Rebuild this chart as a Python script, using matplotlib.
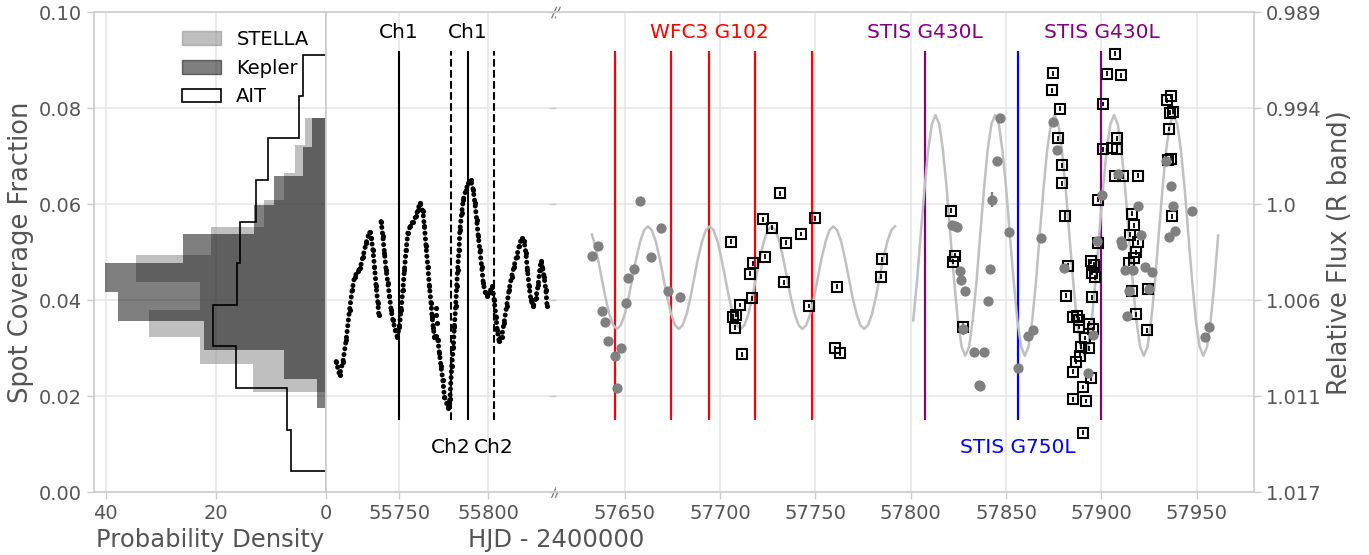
import matplotlib.pyplot as plt
import matplotlib as mpl
from matplotlib.patches import Patch
from matplotlib.ticker import FormatStrFormatter
import numpy as np

#%% Histogram data (spot coverage fraction bins -> probability density)
stella_edges = [0.0209, 0.0266, 0.0323, 0.0380, 0.0437, 0.0494, 0.0552, 0.0609, 0.0666, 0.0723, 0.0780]
stella_dens = [13.2, 22.8, 32.2, 22.8, 34.4, 20.8, 11.3, 7.6, 5.6, 3.8]
kepler_edges = [0.0175, 0.0236, 0.0296, 0.0357, 0.0417, 0.0478, 0.0538, 0.0599, 0.0659, 0.0720, 0.0780]
kepler_dens = [1.6, 7.6, 22.1, 37.7, 40.1, 25.9, 13.0, 9.5, 4.1, 2.5]
ait_edges = [0.0043, 0.0130, 0.0217, 0.0304, 0.0390, 0.0477, 0.0564, 0.0651, 0.0738, 0.0825, 0.0912]
ait_dens = [6.3, 7.1, 16.3, 20.5, 16.2, 15.6, 12.7, 10.5, 4.85, 4.2]

#%% Kepler light curve (HJD - 2400000, spot coverage fraction)
kep_t = [55714.7, 55716.6, 55718.5, 55720.3, 55722.2, 55723.7, 55725.0, 55726.9, 55728.2, 55729.7,
         55731.5, 55733.4, 55734.3, 55735.3, 55736.2, 55737.1, 55738.1, 55738.6, np.nan,
         55739.9, 55740.9, 55741.8, 55742.7, 55743.7, 55744.6, 55745.5, 55746.5, 55747.8, 55748.9,
         55750.2, 55751.1, 55752.1, 55753.0, 55753.9, 55754.9, 55756.2, 55757.7, 55759.5, 55760.5,
         55761.8, 55763.3, 55764.2, 55765.1, 55766.1, 55767.0, 55767.9, 55768.5, 55769.2, 55769.8,
         55770.7, 55771.7, 55772.6, 55773.5, 55774.5, 55775.4, 55776.7, 55777.6, 55778.5, 55779.5,
         55780.4, 55781.0, 55781.7, 55782.3, 55782.8, 55783.6, 55784.1, 55785.1, 55786.0, 55787.5,
         55788.8, 55790.1, 55791.6, 55792.5, 55793.5, 55794.4, 55795.3, 55796.3, 55797.2, 55798.1,
         55799.4, 55800.9, 55802.2, 55803.3, 55804.3, 55805.0, 55806.1, 55807.5, 55808.8, 55810.3,
         55811.7, 55813.1, 55814.4, 55815.9, 55817.3, 55818.7, 55820.1, 55821.1, 55822.0, 55822.9,
         55823.9, 55825.2, 55826.7, 55828.0, 55828.9, 55829.5, 55830.4, 55831.3, 55832.3, 55833.0]
kep_f = [0.0272, 0.0244, 0.0272, 0.0317, 0.0380, 0.0422, 0.0449, 0.0460, 0.0467, 0.0491,
         0.0519, 0.0543, 0.0530, 0.0505, 0.0470, 0.0429, 0.0394, 0.0370, np.nan,
         0.0564, 0.0533, 0.0498, 0.0463, 0.0436, 0.0408, 0.0380, 0.0359, 0.0338, 0.0324,
         0.0345, 0.0380, 0.0422, 0.0463, 0.0505, 0.0540, 0.0554, 0.0564, 0.0575, 0.0589,
         0.0603, 0.0585, 0.0554, 0.0512, 0.0470, 0.0429, 0.0394, 0.0366, 0.0342, 0.0324,
         0.0325, 0.0317, 0.0290, 0.0262, 0.0234, 0.0199, 0.0185, 0.0176, 0.0195, 0.0262,
         0.0303, 0.0345, 0.0387, 0.0429, 0.0463, 0.0505, 0.0547, 0.0582, 0.0610, 0.0630,
         0.0644, 0.0651, 0.0630, 0.0603, 0.0568, 0.0533, 0.0505, 0.0470, 0.0436, 0.0418,
         0.0408, 0.0418, 0.0429, 0.0401, 0.0366, 0.0338, 0.0314, 0.0324, 0.0352, 0.0387,
         0.0422, 0.0449, 0.0470, 0.0491, 0.0512, 0.0530, 0.0523, 0.0498, 0.0463, 0.0429,
         0.0401, 0.0387, 0.0404, 0.0432, 0.0463, 0.0481, 0.0470, 0.0449, 0.0422, 0.0387]
kep_out_t = [55770.6, 55770.9, 55771.1]
kep_out_f = [0.0383, 0.0370, 0.0352]

ch1_t = [55750.0, 55788.7]
ch2_t = [55779.1, 55803.3]

#%% Ground-based photometry and HST visits
wfc3_t = [57645.1, 57674.1, 57694.2, 57718.1, 57748.1]
g430_t = [57807.5, 57900.0]
g750_t = [57856.4]

# sinusoid model
fit1_t = [57632.8, 57633.9, 57635.9, 57637.9, 57639.9, 57642.0, 57644.0, 57646.0, 57648.0, 57650.1,
          57652.1, 57654.1, 57656.1, 57658.2, 57660.2, 57662.2, 57664.2, 57666.3, 57668.3, 57670.3,
          57672.3, 57674.4, 57676.4, 57678.4, 57680.4, 57682.5, 57684.5, 57686.5, 57688.5, 57690.6,
          57692.6, 57694.6, 57696.6, 57698.7, 57700.7, 57702.7, 57704.7, 57706.8, 57708.8, 57710.8,
          57712.8, 57714.9, 57716.9, 57718.9, 57720.9, 57723.0, 57725.0, 57727.0, 57729.0, 57731.1,
          57733.1, 57735.1, 57737.1, 57739.2, 57741.2, 57743.2, 57745.2, 57747.3, 57749.3, 57751.3,
          57753.3, 57755.4, 57757.4, 57759.4, 57761.4, 57763.5, 57765.5, 57767.5, 57769.5, 57771.6,
          57773.6, 57775.6, 57777.6, 57779.7, 57781.7, 57783.7, 57785.7, 57787.8, 57789.8, 57791.8]
fit1_f = [0.0537, 0.0523, 0.0488, 0.0447, 0.0406, 0.0371, 0.0348, 0.0340, 0.0348, 0.0371,
          0.0406, 0.0447, 0.0488, 0.0523, 0.0546, 0.0554, 0.0546, 0.0523, 0.0488, 0.0447,
          0.0406, 0.0371, 0.0348, 0.0340, 0.0348, 0.0371, 0.0406, 0.0447, 0.0488, 0.0523,
          0.0546, 0.0554, 0.0546, 0.0523, 0.0488, 0.0447, 0.0406, 0.0371, 0.0348, 0.0340,
          0.0348, 0.0371, 0.0406, 0.0447, 0.0488, 0.0523, 0.0546, 0.0554, 0.0546, 0.0523,
          0.0488, 0.0447, 0.0406, 0.0371, 0.0348, 0.0340, 0.0348, 0.0371, 0.0406, 0.0447,
          0.0488, 0.0523, 0.0546, 0.0554, 0.0546, 0.0523, 0.0488, 0.0447, 0.0406, 0.0371,
          0.0348, 0.0340, 0.0348, 0.0371, 0.0406, 0.0447, 0.0488, 0.0523, 0.0546, 0.0554]
fit2_t = [57801.3, 57803.3, 57805.2, 57807.2, 57809.1, 57811.1, 57813.0, 57815.0, 57816.9, 57818.9,
          57820.8, 57822.8, 57824.7, 57826.7, 57828.6, 57830.6, 57832.5, 57834.5, 57836.4, 57838.4,
          57840.3, 57842.3, 57844.2, 57846.2, 57848.1, 57850.1, 57852.0, 57854.0, 57855.9, 57857.9,
          57859.8, 57861.8, 57863.7, 57865.7, 57867.6, 57869.6, 57871.5, 57873.5, 57875.4, 57877.4,
          57879.3, 57881.3, 57883.2, 57885.2, 57887.1, 57889.1, 57891.0, 57893.0, 57894.9, 57896.9,
          57898.8, 57900.8, 57902.7, 57904.7, 57906.6, 57908.6, 57910.5, 57912.5, 57914.4, 57916.4,
          57918.3, 57920.3, 57922.2, 57924.2, 57926.1, 57928.1, 57930.0, 57932.0, 57933.9, 57935.9,
          57937.8, 57939.8, 57941.7, 57943.7, 57945.6, 57947.6, 57949.5, 57951.5, 57953.4, 57955.4,
          57957.3, 57959.3, 57961.2]
fit2_f = [0.0358, 0.0439, 0.0535, 0.0631, 0.0712, 0.0767, 0.0786, 0.0767, 0.0712, 0.0631,
          0.0535, 0.0439, 0.0358, 0.0303, 0.0284, 0.0303, 0.0358, 0.0439, 0.0535, 0.0631,
          0.0712, 0.0767, 0.0786, 0.0767, 0.0712, 0.0631, 0.0535, 0.0439, 0.0358, 0.0303,
          0.0284, 0.0303, 0.0358, 0.0439, 0.0535, 0.0631, 0.0712, 0.0767, 0.0786, 0.0767,
          0.0712, 0.0631, 0.0535, 0.0439, 0.0358, 0.0303, 0.0284, 0.0303, 0.0358, 0.0439,
          0.0535, 0.0631, 0.0712, 0.0767, 0.0786, 0.0767, 0.0712, 0.0631, 0.0535, 0.0439,
          0.0358, 0.0303, 0.0284, 0.0303, 0.0358, 0.0439, 0.0535, 0.0631, 0.0712, 0.0767,
          0.0786, 0.0767, 0.0712, 0.0631, 0.0535, 0.0439, 0.0358, 0.0303, 0.0284, 0.0303,
          0.0358, 0.0439, 0.0535]

# filled gray circles
dot_t = [57632.8, 57636.0, 57637.9, 57639.9, 57641.1, 57644.9, 57646.0, 57648.1, 57650.9, 57651.9,
         57654.9, 57657.9, 57664.0, 57668.9, 57672.9, 57678.9,
         57821.6, 57823.0, 57824.5, 57825.8, 57826.6, 57828.5, 57827.5, 57833.3, 57838.2, 57835.9,
         57836.4, 57841.5, 57840.3, 57842.6, 57845.3, 57846.6, 57851.6,
         57856.5, 57861.6, 57864.2, 57868.3, 57874.4, 57876.5, 57880.3, 57892.7, 57895.5, 57897.5,
         57900.4, 57908.5, 57910.1, 57910.6, 57912.3, 57913.5, 57914.6, 57916.7, 57919.4, 57920.6,
         57923.0, 57925.1, 57926.3, 57933.6, 57935.5, 57936.3, 57937.5, 57938.5, 57947.3, 57954.3,
         57956.5]
dot_f = [0.0493, 0.0514, 0.0378, 0.0355, 0.0314, 0.0284, 0.0216, 0.0301, 0.0395, 0.0446,
         0.0465, 0.0607, 0.0491, 0.0551, 0.0419, 0.0407,
         0.0557, 0.0555, 0.0553, 0.0460, 0.0443, 0.0419, 0.0340, 0.0292, 0.0293, 0.0224,
         0.0222, 0.0466, 0.0399, 0.0610, 0.0690, 0.0780, 0.0542,
         0.0259, 0.0326, 0.0337, 0.0529, 0.0772, 0.0714, 0.0467, 0.0248, 0.0328, 0.0523,
         0.0620, 0.0663, 0.0523, 0.0516, 0.0463, 0.0367, 0.0420, 0.0463, 0.0596, 0.0537,
         0.0470, 0.0423, 0.0458, 0.0690, 0.0532, 0.0639, 0.0596, 0.0545, 0.0587, 0.0323,
         0.0344]
dot_err = [0.0003, 0.0003, 0.0003, 0.0003, 0.0003, 0.0003, 0.0003, 0.0007, 0.0003, 0.0003,
           0.0003, 0.0003, 0.0006, 0.0003, 0.0003, 0.0006,
           0.0003, 0.0003, 0.0003, 0.0003, 0.0003, 0.0003, 0.0013, 0.0003, 0.0003, 0.0003,
           0.0003, 0.0003, 0.0003, 0.0016, 0.0004, 0.0003, 0.0003,
           0.0003, 0.0003, 0.0003, 0.0003, 0.0003, 0.0003, 0.0003, 0.0004, 0.0003, 0.0003,
           0.0003, 0.0003, 0.0003, 0.0003, 0.0003, 0.0003, 0.0003, 0.0003, 0.0009, 0.0003,
           0.0006, 0.0003, 0.0004, 0.0003, 0.0003, 0.0003, 0.0003, 0.0003, 0.0003, 0.0003,
           0.0003]

# open squares
sq_t = [57706.0, 57710.5, 57708.6, 57706.7, 57707.7, 57711.7, 57715.7, 57717.5, 57716.8, 57722.8,
        57723.8, 57727.5, 57731.7, 57734.6, 57733.8, 57742.7, 57749.8, 57746.7, 57761.6, 57760.5,
        57762.8, 57785.2, 57784.3,
        57821.2, 57823.3, 57822.1, 57827.2,
        57874.7, 57874.0, 57878.2, 57877.2, 57879.1, 57879.1, 57881.0, 57882.3, 57881.2, 57884.9,
        57885.0, 57885.0,
        57907.1, 57902.7, 57910.3, 57901.0, 57908.0, 57901.0, 57908.0, 57905.4, 57907.1, 57911.5,
        57919.4, 57898.2, 57915.8, 57917.2, 57914.9, 57919.4, 57898.4, 57918.1, 57917.2, 57914.7,
        57894.5, 57896.2, 57895.2, 57896.6, 57916.2, 57895.2, 57918.1, 57887.0, 57888.4, 57888.2,
        57893.4, 57895.7, 57891.3, 57889.2, 57893.4, 57888.7, 57886.9, 57894.5, 57890.5, 57891.9,
        57890.2,
        57934.2, 57936.5, 57936.0, 57937.3, 57935.2, 57934.7, 57936.3, 57937.1, 57924.2, 57924.0]
sq_f = [0.0522, 0.0390, 0.0370, 0.0366, 0.0343, 0.0287, 0.0455, 0.0477, 0.0404, 0.0569,
        0.0491, 0.0551, 0.0623, 0.0520, 0.0437, 0.0538, 0.0571, 0.0388, 0.0428, 0.0300,
        0.0289, 0.0485, 0.0449,
        0.0587, 0.0493, 0.0480, 0.0345,
        0.0873, 0.0838, 0.0799, 0.0738, 0.0681, 0.0644, 0.0575, 0.0472, 0.0409, 0.0366,
        0.0251, 0.0193,
        0.0914, 0.0872, 0.0869, 0.0809, 0.0738, 0.0715, 0.0715, 0.0718, 0.0658, 0.0658,
        0.0660, 0.0610, 0.0580, 0.0556, 0.0537, 0.0521, 0.0519, 0.0500, 0.0488, 0.0477,
        0.0481, 0.0474, 0.0457, 0.0448, 0.0420, 0.0406, 0.0371, 0.0367, 0.0359, 0.0345,
        0.0351, 0.0340, 0.0321, 0.0303, 0.0300, 0.0284, 0.0272, 0.0237, 0.0219, 0.0190,
        0.0124,
        0.0817, 0.0825, 0.0791, 0.0793, 0.0757, 0.0693, 0.0695, 0.0575, 0.0423, 0.0337]
sq_err = [0.0005] * len(sq_t)
sq_err[26] = 0.0008
sq_err[33] = 0.0009

frac_ticks = [0.0, 0.02, 0.04, 0.06, 0.08, 0.10]
flux_labels = ['1.017', '1.011', '1.006', '1.0', '0.994', '0.989']

#%% Style
GRID = '#e5e5e5'
SPINE = '#cccccc'
TXT = '#555555'
plt.rcParams['font.family'] = ['DejaVu Sans']

def style_axes(ax):
    ax.grid(True, color=GRID, lw=1.1)
    ax.set_axisbelow(True)
    for sp in ax.spines.values():
        sp.set_color(SPINE)
        sp.set_linewidth(1.2)
    ax.tick_params(labelsize=14, labelcolor=TXT, color=SPINE, length=5, width=1)

fig = plt.figure(figsize=(13.69, 5.55), dpi=100)
bot, hgt = 0.1135, 0.864
ax0 = fig.add_axes([94 / 1369, bot, 232 / 1369, hgt])
ax1 = fig.add_axes([326 / 1369, bot, 230 / 1369, hgt], sharey=ax0)
ax2 = fig.add_axes([556 / 1369, bot, 698 / 1369, hgt], sharey=ax0)
for ax in (ax0, ax1, ax2):
    style_axes(ax)

#%% Histogram panel
ax0.barh(stella_edges[:-1], stella_dens, height=np.diff(stella_edges), align='edge',
         color='gray', alpha=0.5, linewidth=0)
ax0.barh(kepler_edges[:-1], kepler_dens, height=np.diff(kepler_edges), align='edge',
         color='k', alpha=0.5, linewidth=0)
ax0.stairs(ait_dens, ait_edges, orientation='horizontal', color='k', lw=1.2)
ax0.set_xlim(42.1, 0)
ax0.set_ylim(0, 0.10)
ax0.set_xticks([40, 20, 0])
ax0.set_yticks(frac_ticks)
ax0.yaxis.set_major_formatter(FormatStrFormatter('%.2f'))
ax0.set_xlabel('Probability Density', fontsize=17.5, color=TXT)
ax0.set_ylabel('Spot Coverage Fraction', fontsize=18.5, color=TXT)
handles = [Patch(color='gray', alpha=0.5, label='STELLA'),
           Patch(color='k', alpha=0.5, label='Kepler'),
           Patch(facecolor='white', edgecolor='k', lw=1.2, label='AIT')]
ax0.legend(handles=handles, loc='upper right', frameon=False, fontsize=14)

#%% Kepler panel
ax1.plot(kep_t, kep_f, color='k', lw=3.6, ls=(0, (0.01, 1.15)), dash_capstyle='round')
ax1.plot(kep_t, kep_f, 'o', color='k', ms=3.7, mew=0)
ax1.plot(kep_out_t, kep_out_f, 'o', color='k', ms=3.7, mew=0)
ax1.vlines(ch1_t, 0.015, 0.092, colors='k', lw=1.5)
ax1.vlines(ch2_t, 0.015, 0.092, colors='k', lw=1.5, linestyles='--')
for t in ch1_t:
    ax1.text(t, 0.0958, 'Ch1', ha='center', va='center', fontsize=14.5)
for t in ch2_t:
    ax1.text(t, 0.0093, 'Ch2', ha='center', va='center', fontsize=14.5)
ax1.set_xlim(55709, 55838)
ax1.set_xticks([55750, 55800])
ax1.tick_params(left=False, labelleft=False, right=False)
ax1.spines['right'].set_visible(False)
ax1.set_xlabel('HJD - 2400000', fontsize=17.5, color=TXT)
ax1.xaxis.label.set_x(1.0)

#%% HST era panel
ax2.vlines(wfc3_t, 0.015, 0.092, colors='red', lw=1.6, zorder=2)
ax2.vlines(g430_t, 0.015, 0.092, colors='purple', lw=1.6, zorder=2)
ax2.vlines(g750_t, 0.015, 0.092, colors='blue', lw=1.6, zorder=2)
ax2.plot(fit1_t, fit1_f, color='#c0c0c0', lw=1.8, zorder=2.5)
ax2.plot(fit2_t, fit2_f, color='#c0c0c0', lw=1.8, zorder=2.5)
ax2.errorbar(sq_t, sq_f, yerr=sq_err, fmt='s', ms=7.2, mfc='none', mec='k', mew=1.5,
             ecolor='k', elinewidth=1.3, capsize=0, zorder=3)
ax2.errorbar(dot_t, dot_f, yerr=dot_err, fmt='o', ms=7.4, color='gray', mew=0,
             elinewidth=1.7, capsize=0, zorder=4)
ax2.text(wfc3_t[2], 0.0958, 'WFC3 G102', color='red', ha='center', va='center', fontsize=14.5)
for t in g430_t:
    ax2.text(t, 0.0958, 'STIS G430L', color='purple', ha='center', va='center', fontsize=14.5)
ax2.text(g750_t[0], 0.0092, 'STIS G750L', color='blue', ha='center', va='center', fontsize=14.5)
ax2.set_xlim(57614, 57980)
ax2.set_xticks([57650, 57700, 57750, 57800, 57850, 57900, 57950])
ax2.tick_params(left=False, labelleft=False)
ax2.spines['left'].set_visible(False)

ax3 = ax2.twinx()
ax3.set_ylim(0, 0.10)
ax3.set_yticks(frac_ticks)
ax3.set_yticklabels(flux_labels)
for sp in ax3.spines.values():
    sp.set_visible(False)
ax3.tick_params(labelsize=14, labelcolor=TXT, color=SPINE, length=5, width=1, left=False)
ax3.set_ylabel('Relative Flux (R band)', fontsize=18.5, color=TXT)

# axis break marks
for yy in (0, 1):
    for dx in (-0.008, 0.008):
        ax1.plot([1 + dx - 0.01, 1 + dx + 0.01], [yy - 0.011, yy + 0.011],
                 transform=ax1.transAxes, color='#777777', lw=0.9, clip_on=False)

plt.savefig('out.png', dpi=100)
